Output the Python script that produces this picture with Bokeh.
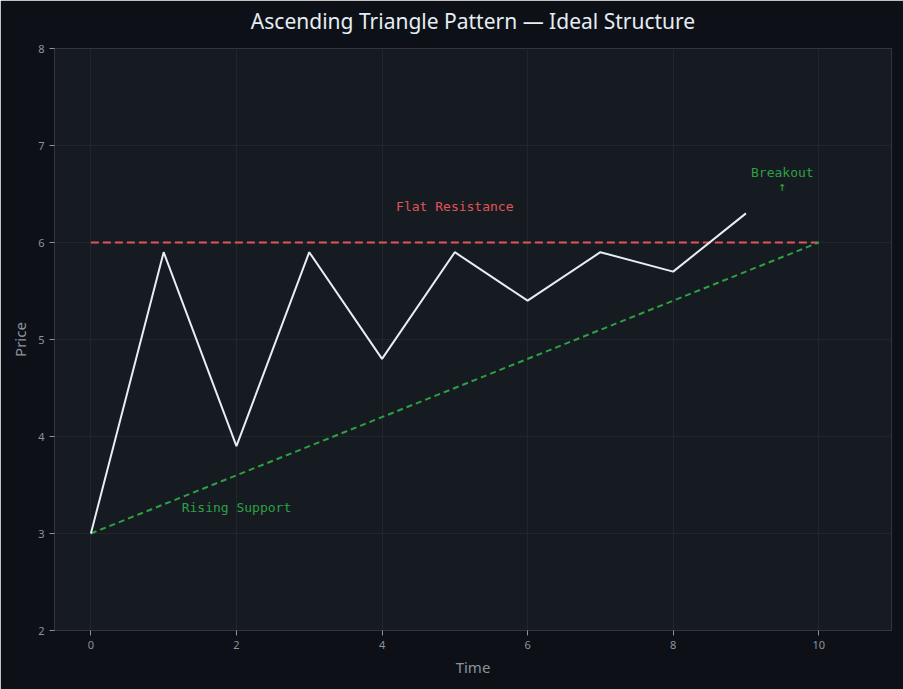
from bokeh.plotting import figure
from bokeh.models import Range1d, FixedTicker, Title
from bokeh.core.properties import value
from bokeh.embed import file_html
from bokeh.resources import INLINE

time = [0, 1, 2, 3, 4, 5, 6, 7, 8, 9]
price = [3.0, 5.9, 3.9, 5.9, 4.8, 5.9, 5.4, 5.9, 5.7, 6.3]
resist_x = [0, 10]
resist_y = [6, 6]
support_x = [0, 10]
support_y = [3, 6]
x_ticks = [0, 2, 4, 6, 8, 10]
y_ticks = [2, 3, 4, 5, 6, 7, 8]
title_text = "Ascending Triangle Pattern — Ideal Structure"

BG = "#0d1117"
PANEL = "#161b22"
GRID = "#21262d"
TXT = "#8b949e"
RED = "#e05555"
GREEN = "#2ea043"
WHITE = "#e6edf3"

p = figure(width=903, height=689, output_backend="svg", toolbar_location=None,
           x_range=Range1d(-0.5, 11), y_range=Range1d(2, 8),
           x_axis_label="Time", y_axis_label="Price",
           min_border_left=54, min_border_right=12, min_border_top=48, min_border_bottom=59)
p.title = None
p.background_fill_color = PANEL
p.border_fill_color = BG
p.outline_line_color = "#30363d"

spacer = Title(text=" ", text_font_size="1px", standoff=11)
p.add_layout(spacer, "above")
main_title = Title(text=title_text, text_color="#e6edf3", text_font="Noto Sans",
                   text_font_size="21px", text_font_style="normal", align="center",
                   standoff=0)
p.add_layout(main_title, "above")

for ax in (p.xaxis[0], p.yaxis[0]):
    ax.axis_line_color = None
    ax.major_tick_line_color = TXT
    ax.minor_tick_line_color = None
    ax.major_tick_out = 5
    ax.major_tick_in = 0
    ax.major_label_text_color = TXT
    ax.major_label_text_font = "Noto Sans"
    ax.major_label_text_font_size = "11px"
    ax.axis_label_text_color = TXT
    ax.axis_label_text_font = "Noto Sans"
    ax.axis_label_text_font_size = "15px"
    ax.axis_label_text_font_style = "normal"
p.xaxis.ticker = FixedTicker(ticks=x_ticks)
p.yaxis.ticker = FixedTicker(ticks=y_ticks)
p.xgrid.ticker = FixedTicker(ticks=x_ticks)
p.ygrid.ticker = FixedTicker(ticks=y_ticks)
p.grid.grid_line_color = GRID
p.grid.grid_line_width = 1

p.line(resist_x, resist_y, line_color=RED, line_width=2, line_dash="8 4")
p.line(support_x, support_y, line_color=GREEN, line_width=2, line_dash="6 4")
p.line(time, price, line_color=WHITE, line_width=2)

mono = value("DejaVu Sans Mono")
p.text(x=[5.0], y=[6.37], text=["Flat Resistance"], text_color=RED, text_font=mono,
       text_font_size="13px", text_align="center", text_baseline="middle")
p.text(x=[2.0], y=[3.27], text=["Rising Support"], text_color=GREEN, text_font=mono,
       text_font_size="13px", text_align="center", text_baseline="middle")
p.text(x=[9.5], y=[6.72], text=["Breakout"], text_color=GREEN, text_font=mono,
       text_font_size="13px", text_align="center", text_baseline="middle")
p.text(x=[9.5], y=[6.58], text=["↑"], text_color=GREEN, text_font=mono,
       text_font_size="13px", text_align="center", text_baseline="middle")

open("out.html", "w").write(file_html(p, INLINE))
